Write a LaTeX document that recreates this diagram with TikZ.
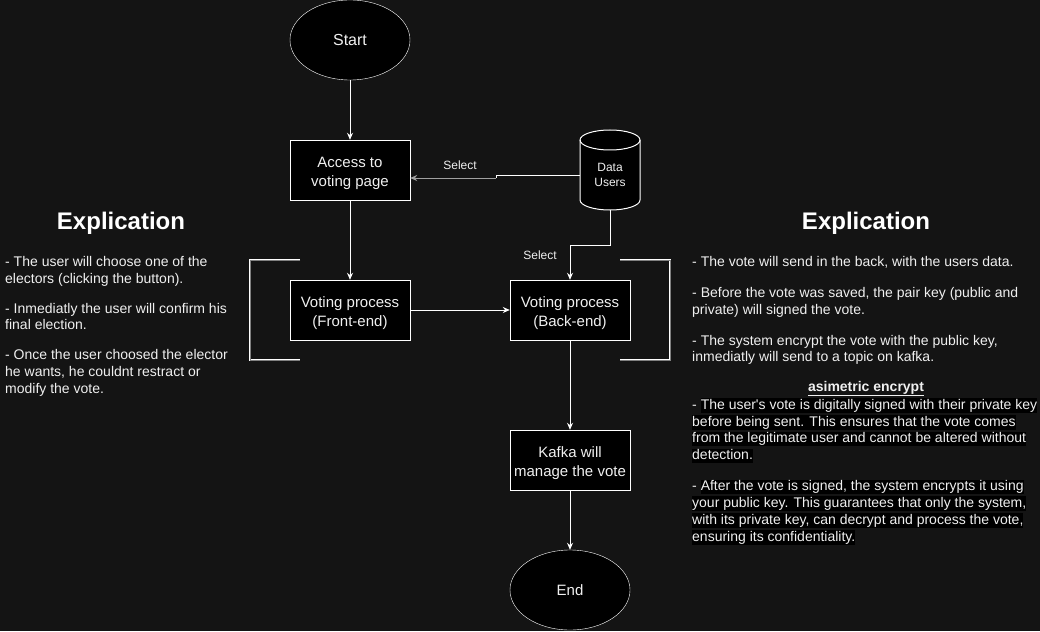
\documentclass[tikz,border=0pt]{standalone}
\usepackage{fontspec}
\setmainfont{Liberation Sans}
\usetikzlibrary{shapes,arrows.meta,calc}
\definecolor{bg}{HTML}{141414}
\definecolor{txt}{HTML}{F0F0F0}
\definecolor{line2}{HTML}{A0A0A0}
\setlength{\fboxsep}{0pt}
\newcommand{\hlb}[1]{\colorbox{black}{\rule[-3.5pt]{0pt}{14.5pt}#1}}
\newcommand{\bstrut}{\rule[-3pt]{0pt}{20pt}}
\tikzset{
  box/.style={draw=white, fill=black, text=txt, minimum width=120pt, minimum height=60pt, inner sep=0pt, align=center, font=\fontsize{15}{18.5}\selectfont},
  term/.style={ellipse, draw=white, fill=black, text=txt, minimum width=120pt, minimum height=80pt, inner sep=0pt},
  flow/.style={-{Stealth[length=7pt,width=6pt]}, white, line width=1pt},
  bracket/.style={draw=white, double=gray, line width=0.8pt, double distance=1pt},
  para/.style={text=txt, align=left, inner sep=0pt, font=\fontsize{14}{16.8}\selectfont},
  title/.style={text=white, inner sep=0pt, font=\fontsize{24}{28}\selectfont\bfseries},
  lbl/.style={text=txt, inner sep=0pt, align=center, font=\fontsize{12}{14.4}\selectfont},
}
\begin{document}
\begin{tikzpicture}[x=1pt,y=-1pt]
            \fill[bg] (0,0) rectangle (1040,631);
            \useasboundingbox (0,0) rectangle (1040,631);

            \node[term, font=\fontsize{16}{19}\selectfont](start) at (350,40) {Start};
            \node[box](access) at (350,170) {\bstrut Access to\\voting page};
            \node[box](front) at (350,310) {\bstrut Voting process\\(Front-end)};
            \node[box](back) at (570,310) {\bstrut Voting process\\(Back-end)};
            \node[box](kafka) at (570,460) {\bstrut Kafka will\\manage the vote};
            \node[term, font=\fontsize{15}{18}\selectfont](end) at (570,590) {End};

            \filldraw[fill=black, draw=white, line width=1pt] (580,140) -- (580,200) arc[start angle=180, end angle=0, x radius=30, y radius=10] -- (640,140) arc[start angle=0, end angle=-180, x radius=30, y radius=10] -- cycle;
            \draw[white, line width=1pt] (580,140) arc[start angle=180, end angle=0, x radius=30, y radius=10];
            \node[minimum width=60pt, minimum height=80pt, inner sep=0pt](db) at (610,170) {};
            \node[lbl](dbtext) at (610,175) {Data\\Users};

            \draw[flow] (start) -- (access);
            \draw[flow] (access) -- (front);
            \draw[flow] (front) -- (back);
            \draw[flow] (back) -- (kafka);
            \draw[flow] (kafka) -- (end);

            \coordinate (jog) at (496,178);
            \draw[white, line width=1pt] ([yshift=-5pt]db.west) -| (jog);
            \draw[flow, line2] (jog) -- ([yshift=-8pt]access.east);
            \draw[flow] (db.south) -- ++(0,35) -| (back.north);
            \node[lbl, anchor=base](sel1) at (460,169) {Select};
            \node[lbl, anchor=base](sel2) at (540,259) {Select};

            \draw[bracket] (300,260) -- (250,260) -- (250,360) -- (300,360);
            \draw[bracket] (620,260) -- (670,260) -- (670,360) -- (620,360);

            \node[title, anchor=base](expl1) at (121,229) {Explication};
            \node[title, anchor=base](expl2) at (866,229) {Explication};

            \node[para, anchor=north west](left) at (5,256) {- The user will choose one of the\\electors (clicking the button).\\[13.2pt]- Inmediatly the user will confirm his\\final election.\\[13.2pt]- Once the user choosed the elector\\he wants, he couldnt restract or\\modify the vote.};
            \node[para, anchor=north west](right) at (692,256) {- The vote will send in the back, with the users data.\\[14.2pt]- Before the vote was saved, the pair key (public and\\private) will signed the vote.\\[14.2pt]- The system encrypt the vote with the public key,\\inmediatly will send to a topic on kafka.};
            \node[para, anchor=base, font=\fontsize{14}{16.8}\selectfont\bfseries](asym) at (866,391) {\underline{asimetric encrypt}};
            \node[para, anchor=north west](asymtext) at (692,398) {- \hlb{The user\textquotesingle s vote is digitally signed with their private key}\\\hlb{before being sent. This ensures that the vote comes}\\\hlb{from the legitimate user and cannot be altered without}\\\hlb{detection.}\\[14.2pt]- \hlb{After the vote is signed, the system encrypts it using}\\\hlb{your public key. This guarantees that only the system,}\\\hlb{with its private key, can decrypt and process the vote,}\\\hlb{ensuring its confidentiality.}};
          \end{tikzpicture}
\end{document}
